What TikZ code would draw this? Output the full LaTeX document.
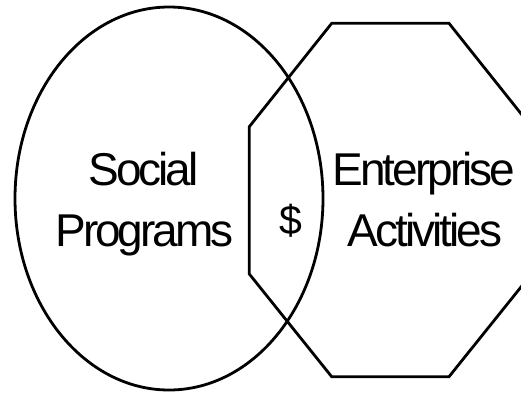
\documentclass[tikz,border=0pt]{standalone}
\usepackage{fontspec}
\setmainfont{Liberation Sans}[LetterSpace=-6.5]
\tikzset{
  outline/.style={line width=2.8pt, black},
  bigtext/.style={anchor=base, inner sep=0pt, font=\fontsize{46}{55}\selectfont},
}
\begin{document}
\begin{tikzpicture}[x=1pt, y=-1pt]
\useasboundingbox (0,0) rectangle (521,392);
\clip (0,0) rectangle (521,392);
% the two sets
\draw[outline] (169,198.5) ellipse [x radius=154, y radius=191.5];
\draw[outline] (249.3,126.7) -- (331.7,23.3) -- (449,23.3) -- (531.4,126.7)
  -- (531.4,274) -- (449,376.7) -- (331.7,376.7) -- (249.3,274) -- cycle;
% labels
\node[bigtext] (social) at (143.5,185) {Social};
\node[bigtext] (programs) at (144.5,246) {Programs};
\node[bigtext] (enterprise) at (424,185) {Enterprise};
\node[bigtext] (activities) at (425,246) {Activities};
\node[bigtext, font=\fontsize{41}{48}\selectfont] (dollar) at (291,234) {\$};
\end{tikzpicture}
\end{document}
